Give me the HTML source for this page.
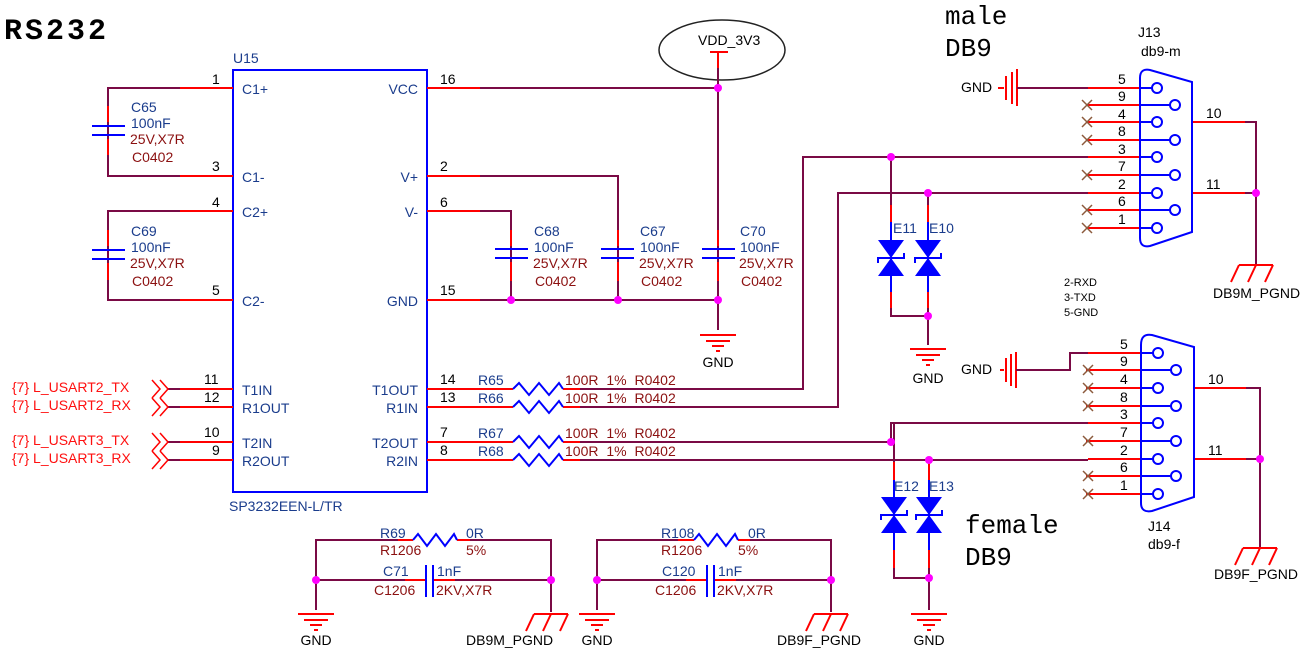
<!DOCTYPE html>
<html><head><meta charset="utf-8"><style>
body{margin:0;background:#fff}
svg{display:block}
text{font-family:"Liberation Sans",sans-serif;font-size:14px}
.b{fill:#1a3c8c}.r{fill:#8b1010}.k{fill:#000}.rd{fill:#ff1010}
.w{stroke:#7a0a45;stroke-width:2;fill:none}
.p{stroke:#ff0000;stroke-width:2;fill:none}
.u{stroke:#0000ff;stroke-width:2;fill:none}
.mono{font-family:"Liberation Mono",monospace}
</style></head><body>
<svg width="1312" height="651" viewBox="0 0 1312 651">
<defs>
<g id="gnd"><line class="p" x1="-18" y1="0" x2="18" y2="0"/><line class="p" x1="-12" y1="6" x2="12" y2="6"/><line class="p" x1="-6" y1="11" x2="6" y2="11"/><line class="p" x1="-2" y1="16" x2="2" y2="16"/></g>
<g id="pg"><line class="p" x1="-17" y1="0" x2="17" y2="0"/><line class="p" x1="-17" y1="0" x2="-25" y2="17"/><line class="p" x1="0" y1="0" x2="-8" y2="17"/><line class="p" x1="17" y1="0" x2="9" y2="17"/></g>
<g id="res"><polyline class="u" points="0,0 6,-6 16,6 26,-6 36,6 46,-6 50,0"/></g>
<g id="tvs"><polygon points="-13,0 13,0 0,18" fill="#0000ff"/><polygon points="-13,36 13,36 0,18" fill="#0000ff"/><polyline class="u" points="-13,23 -13,18 13,18 13,13"/></g>
<g id="x"><line x1="-5" y1="-5" x2="5" y2="5" stroke="#8b5a3c" stroke-width="1.5"/><line x1="-5" y1="5" x2="5" y2="-5" stroke="#8b5a3c" stroke-width="1.5"/></g>
<g id="port"><polyline points="0,-9 8,0 0,9" fill="none" stroke="#ff0000" stroke-width="1.5"/><polyline points="8,-9 16,0 8,9" fill="none" stroke="#ff0000" stroke-width="1.5"/></g>
</defs>

<text x="4" y="39" style="font-family:'Liberation Mono',monospace;font-weight:bold;font-size:30px;letter-spacing:3px" class="k">RS232</text>

<!-- U15 -->
<text x="233" y="63" class="b">U15</text>
<rect x="233" y="70" width="194" height="422" class="u"/>
<text x="229" y="511" class="b">SP3232EEN-L/TR</text>
<g class="p">
<line x1="180" y1="88" x2="233" y2="88"/><line x1="180" y1="176" x2="233" y2="176"/>
<line x1="180" y1="211" x2="233" y2="211"/><line x1="180" y1="300" x2="233" y2="300"/>
<line x1="180" y1="389" x2="233" y2="389"/><line x1="180" y1="407" x2="233" y2="407"/>
<line x1="180" y1="442" x2="233" y2="442"/><line x1="180" y1="460" x2="233" y2="460"/>
<line x1="427" y1="88" x2="480" y2="88"/><line x1="427" y1="176" x2="480" y2="176"/>
<line x1="427" y1="211" x2="480" y2="211"/><line x1="427" y1="300" x2="480" y2="300"/>
<line x1="427" y1="389" x2="480" y2="389"/><line x1="427" y1="407" x2="480" y2="407"/>
<line x1="427" y1="442" x2="480" y2="442"/><line x1="427" y1="460" x2="480" y2="460"/>
</g>
<g class="k">
<text x="212" y="84">1</text><text x="212" y="171">3</text><text x="212" y="207">4</text><text x="212" y="295">5</text>
<text x="204" y="384">11</text><text x="204" y="402">12</text><text x="204" y="437">10</text><text x="212" y="455">9</text>
<text x="440" y="84">16</text><text x="440" y="171">2</text><text x="440" y="207">6</text><text x="440" y="295">15</text>
<text x="440" y="384">14</text><text x="440" y="402">13</text><text x="440" y="437">7</text><text x="440" y="455">8</text>
</g>
<g class="b">
<text x="242" y="94">C1+</text><text x="242" y="182">C1-</text><text x="242" y="217">C2+</text><text x="242" y="306">C2-</text>
<text x="242" y="395">T1IN</text><text x="242" y="413">R1OUT</text><text x="242" y="448">T2IN</text><text x="242" y="466">R2OUT</text>
<text x="418" y="94" text-anchor="end">VCC</text><text x="418" y="182" text-anchor="end">V+</text><text x="418" y="217" text-anchor="end">V-</text><text x="418" y="306" text-anchor="end">GND</text>
<text x="418" y="395" text-anchor="end">T1OUT</text><text x="418" y="413" text-anchor="end">R1IN</text><text x="418" y="448" text-anchor="end">T2OUT</text><text x="418" y="466" text-anchor="end">R2IN</text>
</g>

<!-- C65 / C69 -->
<g class="w">
<polyline points="180,88 108,88 108,176 180,176"/>
<polyline points="180,211 108,211 108,300 180,300"/>
</g>
<g class="p"><line x1="108" y1="106" x2="108" y2="122"/><line x1="108" y1="139" x2="108" y2="155"/>
<line x1="108" y1="230" x2="108" y2="246"/><line x1="108" y1="263" x2="108" y2="280"/></g>
<g class="u"><line x1="92" y1="126" x2="125" y2="126"/><line x1="92" y1="135" x2="125" y2="135"/>
<line x1="92" y1="250" x2="125" y2="250"/><line x1="92" y1="259" x2="125" y2="259"/></g>
<text x="131" y="112" class="b">C65</text><text x="131" y="128" class="b">100nF</text><text x="130" y="144" class="r">25V,X7R</text><text x="132" y="162" class="r">C0402</text>
<text x="131" y="236" class="b">C69</text><text x="131" y="252" class="b">100nF</text><text x="130" y="268" class="r">25V,X7R</text><text x="132" y="286" class="r">C0402</text>

<!-- ports -->
<g class="w"><line x1="168" y1="389" x2="180" y2="389"/><line x1="168" y1="407" x2="180" y2="407"/><line x1="168" y1="442" x2="180" y2="442"/><line x1="168" y1="460" x2="180" y2="460"/></g>
<use href="#port" x="152" y="389"/><use href="#port" x="152" y="407"/><use href="#port" x="152" y="442"/><use href="#port" x="152" y="460"/>
<g class="rd"><text x="12" y="392">{7}  L_USART2_TX</text><text x="12" y="410">{7}  L_USART2_RX</text><text x="12" y="445">{7}  L_USART3_TX</text><text x="12" y="463">{7}  L_USART3_RX</text></g>

<!-- power caps -->
<ellipse cx="722" cy="50" rx="63" ry="30" fill="none" stroke="#222" stroke-width="1.5"/>
<text x="698" y="45" class="k">VDD_3V3</text>
<line class="p" x1="710" y1="52" x2="728" y2="52"/><line class="p" x1="718" y1="52" x2="718" y2="68"/>
<g class="w">
<line x1="480" y1="88" x2="718" y2="88"/><line x1="718" y1="68" x2="718" y2="330"/>
<polyline points="480,176 618,176 618,300"/><polyline points="480,211 511,211 511,300"/>
<line x1="480" y1="300" x2="718" y2="300"/>
</g>
<g class="p"><line x1="511" y1="230" x2="511" y2="246"/><line x1="511" y1="262" x2="511" y2="281"/>
<line x1="618" y1="230" x2="618" y2="246"/><line x1="618" y1="262" x2="618" y2="281"/>
<line x1="718" y1="230" x2="718" y2="246"/><line x1="718" y1="262" x2="718" y2="281"/></g>
<g class="u"><line x1="495" y1="249" x2="528" y2="249"/><line x1="495" y1="258" x2="528" y2="258"/>
<line x1="601" y1="249" x2="634" y2="249"/><line x1="601" y1="258" x2="634" y2="258"/>
<line x1="702" y1="249" x2="735" y2="249"/><line x1="702" y1="258" x2="735" y2="258"/></g>
<g><text x="534" y="236" class="b">C68</text><text x="534" y="252" class="b">100nF</text><text x="533" y="268" class="r">25V,X7R</text><text x="535" y="286" class="r">C0402</text>
<text x="640" y="236" class="b">C67</text><text x="640" y="252" class="b">100nF</text><text x="639" y="268" class="r">25V,X7R</text><text x="641" y="286" class="r">C0402</text>
<text x="740" y="236" class="b">C70</text><text x="740" y="252" class="b">100nF</text><text x="739" y="268" class="r">25V,X7R</text><text x="741" y="286" class="r">C0402</text></g>
<use href="#gnd" x="718" y="335"/><text x="718" y="367" text-anchor="middle" class="k">GND</text>

<!-- series resistors -->
<g class="w">
<polyline points="563,389 803,389 803,157 1088,157"/>
<polyline points="563,407 838,407 838,193 1088,193"/>
<line x1="563" y1="442" x2="891" y2="442"/>
<line x1="563" y1="460" x2="1088" y2="460"/>
<polyline points="891,442 891,423 1088,423"/>
</g>
<g class="p"><line x1="478" y1="389" x2="513" y2="389"/><line x1="478" y1="407" x2="513" y2="407"/><line x1="478" y1="442" x2="513" y2="442"/><line x1="478" y1="460" x2="513" y2="460"/>
<line x1="563" y1="389" x2="580" y2="389"/><line x1="563" y1="407" x2="580" y2="407"/><line x1="563" y1="442" x2="580" y2="442"/><line x1="563" y1="460" x2="580" y2="460"/></g>
<use href="#res" x="513" y="389"/><use href="#res" x="513" y="407"/><use href="#res" x="513" y="442"/><use href="#res" x="513" y="460"/>
<g class="b"><text x="478" y="385">R65</text><text x="478" y="403">R66</text><text x="478" y="438">R67</text><text x="478" y="456">R68</text></g>
<g class="r"><text x="565" y="385" style="word-spacing:4px">100R 1% R0402</text><text x="565" y="403" style="word-spacing:4px">100R 1% R0402</text><text x="565" y="438" style="word-spacing:4px">100R 1% R0402</text><text x="565" y="456" style="word-spacing:4px">100R 1% R0402</text></g>

<!-- E11/E10 -->
<g class="w"><polyline points="891,157 891,316 928,316"/><line x1="928" y1="193" x2="928" y2="345"/></g>
<g class="p"><line x1="891" y1="205" x2="891" y2="222"/><line x1="928" y1="205" x2="928" y2="222"/><line x1="891" y1="292" x2="891" y2="308"/><line x1="928" y1="292" x2="928" y2="308"/></g>
<g class="u"><line x1="891" y1="222" x2="891" y2="292"/><line x1="928" y1="222" x2="928" y2="292"/></g>
<use href="#tvs" x="891" y="240"/><use href="#tvs" x="928" y="240"/>
<text x="893" y="233" class="b">E11</text><text x="929" y="233" class="b">E10</text>
<use href="#gnd" x="928" y="349"/><text x="928" y="383" text-anchor="middle" class="k">GND</text>

<!-- E12/E13 -->
<g class="w"><polyline points="894,423 894,578 929,578"/><line x1="929" y1="460" x2="929" y2="610"/></g>
<g class="p"><line x1="894" y1="462" x2="894" y2="480"/><line x1="929" y1="462" x2="929" y2="480"/><line x1="894" y1="550" x2="894" y2="568"/><line x1="929" y1="550" x2="929" y2="568"/></g>
<g class="u"><line x1="894" y1="480" x2="894" y2="550"/><line x1="929" y1="480" x2="929" y2="550"/></g>
<use href="#tvs" x="894" y="497"/><use href="#tvs" x="929" y="497"/>
<text x="894" y="491" class="b">E12</text><text x="929" y="491" class="b">E13</text>
<use href="#gnd" x="929" y="614"/><text x="929" y="645" text-anchor="middle" class="k">GND</text>

<!-- J13 -->
<text x="945" y="24" class="mono k" style="font-size:26px">male</text>
<text x="945" y="56" class="mono k" style="font-size:26px">DB9</text>
<text x="1138" y="37" class="k">J13</text><text x="1141" y="56" class="k">db9-m</text>
<text x="961" y="92" class="k">GND</text>
<g class="p"><line x1="998" y1="88" x2="1004" y2="88"/><line x1="1006" y1="76" x2="1006" y2="100"/><line x1="1012" y1="72" x2="1012" y2="104"/><line x1="1017" y1="69" x2="1017" y2="106"/></g>
<line class="w" x1="1017" y1="88" x2="1088" y2="88"/>
<g class="p">
<line x1="1088" y1="88" x2="1140" y2="88"/><line x1="1086" y1="105" x2="1140" y2="105"/><line x1="1086" y1="122" x2="1140" y2="122"/><line x1="1086" y1="140" x2="1140" y2="140"/><line x1="1088" y1="157" x2="1140" y2="157"/><line x1="1086" y1="175" x2="1140" y2="175"/><line x1="1088" y1="193" x2="1140" y2="193"/><line x1="1086" y1="210" x2="1140" y2="210"/><line x1="1086" y1="228" x2="1140" y2="228"/>
<line x1="1192" y1="122" x2="1245" y2="122"/><line x1="1192" y1="193" x2="1245" y2="193"/>
</g>
<g class="w"><polyline points="1245,122 1256,122 1256,265"/><line x1="1245" y1="193" x2="1256" y2="193"/></g>
<use href="#pg" x="1256" y="265"/><text x="1213" y="298" class="k">DB9M_PGND</text>
<use href="#x" x="1087" y="105"/><use href="#x" x="1087" y="122"/><use href="#x" x="1087" y="140"/><use href="#x" x="1087" y="175"/><use href="#x" x="1087" y="210"/><use href="#x" x="1087" y="228"/>
<path class="u" d="M1140,78 Q1140,68 1150,70 L1192,82 L1192,232 L1150,246 Q1140,248 1140,238 Z"/>
<g class="u"><line x1="1140" y1="88" x2="1152" y2="88"/><line x1="1140" y1="105" x2="1170" y2="105"/><line x1="1140" y1="122" x2="1152" y2="122"/><line x1="1140" y1="140" x2="1170" y2="140"/><line x1="1140" y1="157" x2="1152" y2="157"/><line x1="1140" y1="175" x2="1170" y2="175"/><line x1="1140" y1="193" x2="1152" y2="193"/><line x1="1140" y1="210" x2="1170" y2="210"/><line x1="1140" y1="228" x2="1152" y2="228"/>
<circle cx="1157" cy="88" r="5"/><circle cx="1175" cy="105" r="5"/><circle cx="1157" cy="122" r="5"/><circle cx="1175" cy="140" r="5"/><circle cx="1157" cy="157" r="5"/><circle cx="1175" cy="175" r="5"/><circle cx="1157" cy="193" r="5"/><circle cx="1175" cy="210" r="5"/><circle cx="1157" cy="228" r="5"/></g>
<g class="k"><text x="1118" y="84">5</text><text x="1118" y="101">9</text><text x="1118" y="119">4</text><text x="1118" y="136">8</text><text x="1118" y="154">3</text><text x="1118" y="171">7</text><text x="1118" y="189">2</text><text x="1118" y="206">6</text><text x="1118" y="224">1</text>
<text x="1206" y="118">10</text><text x="1206" y="189">11</text></g>
<g class="mono k"><text x="1064" y="286" style="font-size:11px">2-RXD</text><text x="1064" y="301" style="font-size:11px">3-TXD</text><text x="1064" y="316" style="font-size:11px">5-GND</text></g>

<!-- J14 -->
<text x="965" y="533" class="mono k" style="font-size:26px">female</text>
<text x="965" y="565" class="mono k" style="font-size:26px">DB9</text>
<text x="1148" y="531" class="k">J14</text><text x="1148" y="549" class="k">db9-f</text>
<text x="961" y="374" class="k">GND</text>
<g class="p"><line x1="1000" y1="370" x2="1004" y2="370"/><line x1="1006" y1="358" x2="1006" y2="382"/><line x1="1011" y1="354" x2="1011" y2="386"/><line x1="1016" y1="352" x2="1016" y2="388"/></g>
<polyline class="w" points="1016,370 1070,370 1070,353 1088,353"/>
<g class="p">
<line x1="1088" y1="353" x2="1141" y2="353"/><line x1="1086" y1="370" x2="1141" y2="370"/><line x1="1086" y1="388" x2="1141" y2="388"/><line x1="1086" y1="406" x2="1141" y2="406"/><line x1="1088" y1="423" x2="1141" y2="423"/><line x1="1086" y1="441" x2="1141" y2="441"/><line x1="1088" y1="459" x2="1141" y2="459"/><line x1="1086" y1="476" x2="1141" y2="476"/><line x1="1086" y1="494" x2="1141" y2="494"/>
<line x1="1194" y1="388" x2="1246" y2="388"/><line x1="1194" y1="459" x2="1246" y2="459"/>
</g>
<g class="w"><polyline points="1246,388 1260,388 1260,548"/><line x1="1246" y1="459" x2="1260" y2="459"/></g>
<use href="#pg" x="1260" y="548"/><text x="1214" y="579" class="k">DB9F_PGND</text>
<use href="#x" x="1088" y="370"/><use href="#x" x="1088" y="388"/><use href="#x" x="1088" y="406"/><use href="#x" x="1088" y="441"/><use href="#x" x="1088" y="476"/><use href="#x" x="1088" y="494"/>
<path class="u" d="M1141,345 Q1141,333 1152,335 L1194,347 L1194,497 L1152,511 Q1141,513 1141,503 Z"/>
<g class="u"><line x1="1141" y1="353" x2="1153" y2="353"/><line x1="1141" y1="370" x2="1171" y2="370"/><line x1="1141" y1="388" x2="1153" y2="388"/><line x1="1141" y1="406" x2="1171" y2="406"/><line x1="1141" y1="423" x2="1153" y2="423"/><line x1="1141" y1="441" x2="1171" y2="441"/><line x1="1141" y1="459" x2="1153" y2="459"/><line x1="1141" y1="476" x2="1171" y2="476"/><line x1="1141" y1="494" x2="1153" y2="494"/>
<circle cx="1158" cy="353" r="5"/><circle cx="1176" cy="370" r="5"/><circle cx="1158" cy="388" r="5"/><circle cx="1176" cy="406" r="5"/><circle cx="1158" cy="423" r="5"/><circle cx="1176" cy="441" r="5"/><circle cx="1158" cy="459" r="5"/><circle cx="1176" cy="476" r="5"/><circle cx="1158" cy="494" r="5"/></g>
<g class="k"><text x="1120" y="349">5</text><text x="1120" y="366">9</text><text x="1120" y="384">4</text><text x="1120" y="402">8</text><text x="1120" y="419">3</text><text x="1120" y="437">7</text><text x="1120" y="455">2</text><text x="1120" y="472">6</text><text x="1120" y="490">1</text>
<text x="1208" y="384">10</text><text x="1208" y="455">11</text></g>

<!-- bottom filters -->
<g class="w">
<polyline points="316,610 316,540 413,540"/><polyline points="457,540 551,540 551,612"/>
<line x1="316" y1="580" x2="426" y2="580"/><line x1="433" y1="580" x2="551" y2="580"/>
<polyline points="597,610 597,540 694,540"/><polyline points="738,540 831,540 831,612"/>
<line x1="597" y1="580" x2="707" y2="580"/><line x1="714" y1="580" x2="831" y2="580"/>
</g>
<g class="p"><line x1="398" y1="540" x2="413" y2="540"/><line x1="457" y1="540" x2="470" y2="540"/><line x1="405" y1="580" x2="426" y2="580"/><line x1="433" y1="580" x2="455" y2="580"/>
<line x1="678" y1="540" x2="694" y2="540"/><line x1="738" y1="540" x2="750" y2="540"/><line x1="686" y1="580" x2="707" y2="580"/><line x1="714" y1="580" x2="736" y2="580"/></g>
<polyline class="u" points="413,540 418,534 427,546 436,534 445,546 454,534 457,540"/>
<polyline class="u" points="694,540 699,534 708,546 717,534 726,546 735,534 738,540"/>
<g class="u"><line x1="426" y1="565" x2="426" y2="597"/><line x1="433" y1="565" x2="433" y2="597"/><line x1="707" y1="565" x2="707" y2="597"/><line x1="714" y1="565" x2="714" y2="597"/></g>
<text x="380" y="538" class="b">R69</text><text x="380" y="555" class="r">R1206</text><text x="466" y="538" class="b">0R</text><text x="466" y="555" class="r">5%</text>
<text x="383" y="576" class="b">C71</text><text x="374" y="595" class="r">C1206</text><text x="437" y="576" class="b">1nF</text><text x="436" y="595" class="r">2KV,X7R</text>
<text x="661" y="538" class="b">R108</text><text x="661" y="555" class="r">R1206</text><text x="748" y="538" class="b">0R</text><text x="738" y="555" class="r">5%</text>
<text x="662" y="576" class="b">C120</text><text x="655" y="595" class="r">C1206</text><text x="718" y="576" class="b">1nF</text><text x="717" y="595" class="r">2KV,X7R</text>
<use href="#gnd" x="316" y="614"/><text x="316" y="645" text-anchor="middle" class="k">GND</text>
<use href="#gnd" x="597" y="614"/><text x="597" y="645" text-anchor="middle" class="k">GND</text>
<use href="#pg" x="551" y="614"/><text x="466" y="645" class="k">DB9M_PGND</text>
<use href="#pg" x="831" y="614"/><text x="777" y="645" class="k">DB9F_PGND</text>

<!-- junctions -->
<g fill="#ff00ff">
<circle cx="718" cy="88" r="4"/><circle cx="511" cy="300" r="4"/><circle cx="618" cy="300" r="4"/><circle cx="718" cy="300" r="4"/>
<circle cx="891" cy="157" r="4"/><circle cx="928" cy="193" r="4"/><circle cx="928" cy="316" r="4"/>
<circle cx="891" cy="442" r="4"/><circle cx="929" cy="460" r="4"/><circle cx="929" cy="578" r="4"/>
<circle cx="1256" cy="193" r="4"/><circle cx="1260" cy="459" r="4"/>
<circle cx="316" cy="580" r="4"/><circle cx="551" cy="580" r="4"/><circle cx="597" cy="580" r="4"/><circle cx="831" cy="580" r="4"/>
</g>
</svg>
</body></html>
